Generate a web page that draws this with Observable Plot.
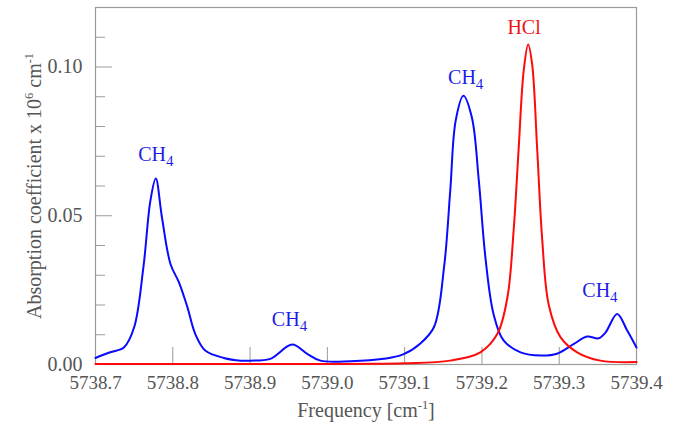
<!DOCTYPE html>
<html>
<head>
<meta charset="utf-8">
<script src="https://cdn.jsdelivr.net/npm/d3@7"></script>
<script src="https://cdn.jsdelivr.net/npm/@observablehq/plot@0.6"></script>
<style>
  html, body { margin: 0; padding: 0; background: #fff; }
  #chart svg { display: block; }
  #chart svg text { font-family: "Liberation Serif", "Times New Roman", serif !important; font-variant: normal !important; }
</style>
</head>
<body>
<div id="chart"></div>
<script>
// ---- data ----
const xTickValues = [5738.7, 5738.8, 5738.9, 5739.0, 5739.1, 5739.2, 5739.3, 5739.4];
const xInnerTicks = [5738.8, 5738.9, 5739.0, 5739.1, 5739.2, 5739.3];
const yMajorTicks = [0, 0.05, 0.10];
const yMinorTicks = [0.01, 0.02, 0.03, 0.04, 0.06, 0.07, 0.08, 0.09, 0.11];

const ch4Freq = [5738.700, 5738.719, 5738.737, 5738.750, 5738.762, 5738.771, 5738.778, 5738.786, 5738.797, 5738.808, 5738.819, 5738.829, 5738.842, 5738.866, 5738.888,
  5738.900, 5738.926, 5738.9545, 5738.974, 5738.991, 5739.030, 5739.073, 5739.098, 5739.120, 5739.138, 5739.151, 5739.159, 5739.166, 5739.176, 5739.187, 5739.196, 5739.2045, 5739.215, 5739.228, 5739.250, 5739.276, 5739.297, 5739.319, 5739.336, 5739.351, 5739.360, 5739.375, 5739.388, 5739.400];
const ch4Abs = [0.0022, 0.0041, 0.0058, 0.0125, 0.0327, 0.0550, 0.0625, 0.0494, 0.0338, 0.0276, 0.0192, 0.0103, 0.0047, 0.0022, 0.0013,
  0.0013, 0.0019, 0.0067, 0.0036, 0.0013, 0.0011, 0.0019, 0.0034, 0.0070, 0.0126, 0.0327, 0.0584, 0.0819, 0.0903, 0.0830, 0.0617, 0.0360, 0.0170, 0.0081, 0.0041, 0.0030, 0.0036, 0.0069, 0.0094, 0.0088, 0.0108, 0.0170, 0.0114, 0.0057];

const hclFreq = [5738.700, 5738.900, 5739.100, 5739.159, 5739.198, 5739.220, 5739.233, 5739.241, 5739.2476, 5739.254, 5739.2598, 5739.265, 5739.2714, 5739.278, 5739.2865, 5739.3016, 5739.3232, 5739.3533, 5739.400];
const hclAbs = [0.0002, 0.0002, 0.0004, 0.0013, 0.0041, 0.0103, 0.0226, 0.0450, 0.0729, 0.0987, 0.1076, 0.1009, 0.0729, 0.0420, 0.0200, 0.0092, 0.0041, 0.0013, 0.0008];

const labelText = ["CH4", "CH4", "CH4", "HCl", "CH4"];
const labelSpecies = ["CH4", "CH4", "CH4", "HCl", "CH4"];
const labelFreq = [5738.778, 5738.951, 5739.179, 5739.2545, 5739.3527];
const labelAbs = [0.0685, 0.0131, 0.0944, 0.1110, 0.0226];

const xTitle = "Frequency [cm-1]";
const yTitle = "Absorption coefficient x 106 cm-1";

// ---- tables built from the arrays ----
const ch4 = ch4Freq.map((f, i) => ({freq: f, abs: ch4Abs[i]}));
const hcl = hclFreq.map((f, i) => ({freq: f, abs: hclAbs[i]}));
const labels = labelText.map((t, i) => ({text: t, species: labelSpecies[i], freq: labelFreq[i], abs: labelAbs[i]}));

const W = 677, H = 424, mL = 95, mR = 41, mT = 7, mB = 60;
const pw = W - mL - mR, ph = H - mT - mB;
const BLUE = "#0a0aff", RED = "#ff0a0a", BLUE_TXT = "#1c1ce6", RED_TXT = "#f01414";
const GRAY = "#9a9a9a", TXT = "#555555";
const SERIF = "'Liberation Serif', 'Times New Roman', serif";

const chart = Plot.plot({
  width: W, height: H,
  marginLeft: mL, marginRight: mR, marginTop: mT, marginBottom: mB,
  style: {fontFamily: SERIF, background: "#fff", color: TXT, overflow: "visible"},
  x: {domain: [5738.7, 5739.4]},
  y: {domain: [0, 0.12]},
  marks: [
    Plot.axisX(xTickValues, {tickSize: 0, tickPadding: 11, fontSize: 19, fill: TXT, tickFormat: d => d.toFixed(1), label: null}),
    Plot.axisY(yMajorTicks, {tickSize: 0, tickPadding: 13, fontSize: 20, fill: TXT, tickFormat: d => d.toFixed(2), label: null}),
    Plot.tickX(xInnerTicks, {x: d => d, stroke: GRAY, strokeWidth: 1, insetTop: ph - 17}),
    Plot.tickY(yMajorTicks, {y: d => d, stroke: GRAY, strokeWidth: 1, insetRight: pw - 17}),
    Plot.tickY(yMinorTicks, {y: d => d, stroke: GRAY, strokeWidth: 1, insetRight: pw - 10}),
    Plot.frame({stroke: GRAY, strokeWidth: 1.2}),
    Plot.line(ch4, {x: "freq", y: "abs", stroke: BLUE, strokeWidth: 2, curve: "catmull-rom"}),
    Plot.line(hcl, {x: "freq", y: "abs", stroke: RED, strokeWidth: 2, curve: "catmull-rom"}),
    Plot.text(labels, {x: "freq", y: "abs", text: "text", fill: d => d.species === "HCl" ? RED_TXT : BLUE_TXT,
      fontSize: 20, textAnchor: "middle", lineAnchor: "bottom"}),
    Plot.text([xTitle], {text: d => d, frameAnchor: "bottom", textAnchor: "middle", lineAnchor: "bottom", dy: 52, fontSize: 20, fill: TXT}),
    Plot.text([yTitle], {text: d => d, frameAnchor: "left", textAnchor: "middle", rotate: -90, lineAnchor: "bottom", dx: -55, fontSize: 20, fill: TXT})
  ]
});

document.getElementById("chart").appendChild(chart);

// sub/superscripts as real text
d3.select(chart).selectAll("text").each(function () {
  const t = this.textContent;
  const el = d3.select(this);
  el.attr("font-family", SERIF);
  if (t === "CH4") {
    el.text(null);
    el.append("tspan").text("CH");
    el.append("tspan").attr("dy", 5).attr("font-size", "0.75em").text("4");
  } else if (t === xTitle) {
    el.text(null);
    el.append("tspan").text("Frequency [cm");
    el.append("tspan").attr("dy", -8).attr("font-size", "0.62em").text("-1");
    el.append("tspan").attr("dy", 8).text("]");
  } else if (t === yTitle) {
    el.text(null);
    el.append("tspan").text("Absorption coefficient x 10");
    el.append("tspan").attr("dy", -8).attr("font-size", "0.62em").text("6");
    el.append("tspan").attr("dy", 8).text(" cm");
    el.append("tspan").attr("dy", -8).attr("font-size", "0.62em").text("-1");
  }
});
</script>
</body>
</html>
